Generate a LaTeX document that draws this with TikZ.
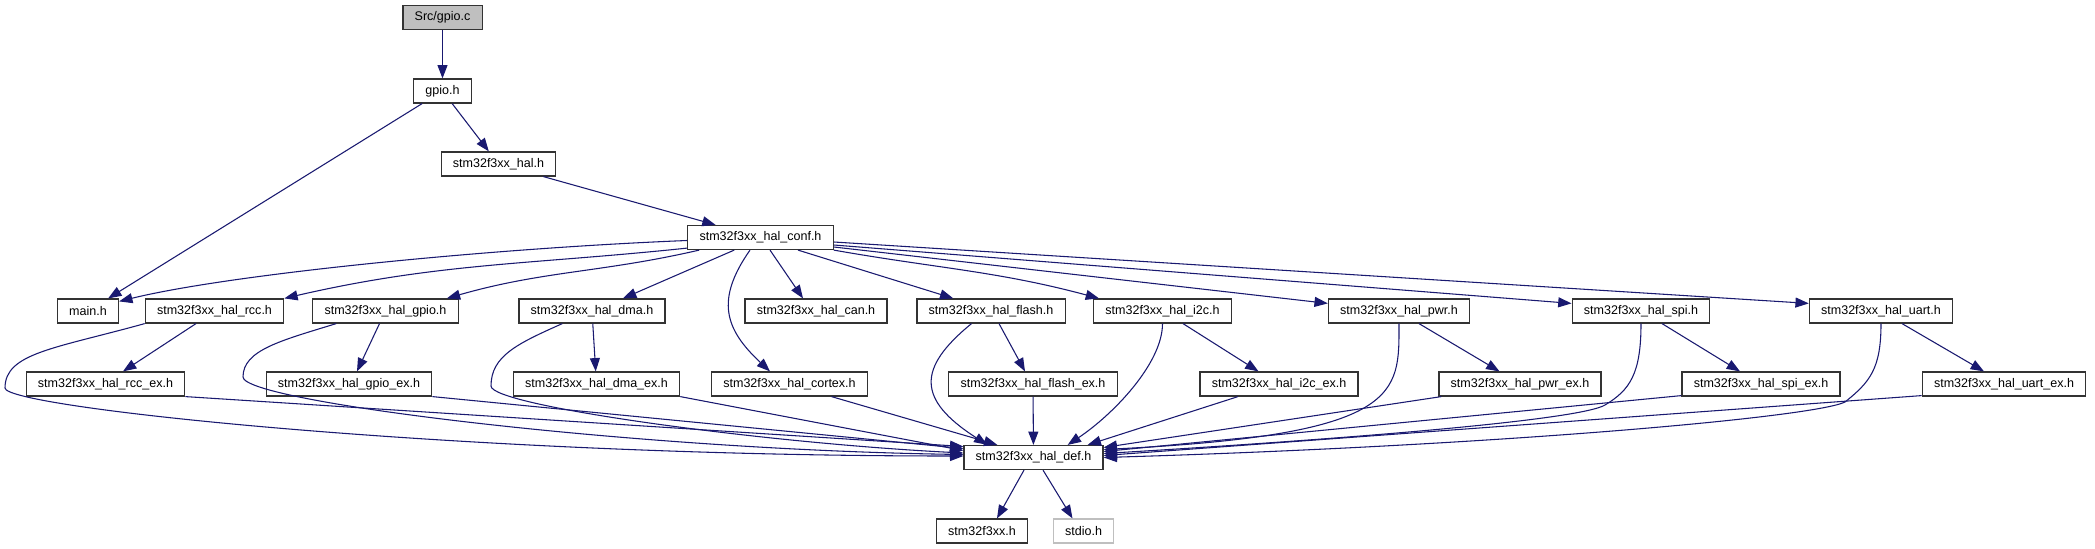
\documentclass[tikz,border=0pt]{standalone}
\usepackage{fontspec}
\setmainfont{Liberation Sans}
\usetikzlibrary{arrows.meta}
\definecolor{edgeblue}{RGB}{25,25,112}
\begin{document}
\begin{tikzpicture}[x=0.75pt, y=0.75pt,
    hfile/.style={draw=black!80, line width=0.9pt, fill=white, inner xsep=8.8pt, inner ysep=0pt, minimum height=18pt, font=\fontsize{9.4}{11}\selectfont},
    incl/.style={draw=edgeblue, line width=0.8pt, -{Triangle[length=10pt, width=7.5pt]}}]
    \fill[white] (0,0) rectangle (2095,-549);
    \useasboundingbox (0,0) rectangle (2095,-549);
    % files
    \node[hfile, fill=black!25] (gpioc) at (442.5,-17.5) {Src/gpio.c};
    \node[hfile] (gpioh) at (442.5,-91) {gpio.h};
    \node[hfile] (hal) at (498.5,-164) {stm32f3xx\_hal.h};
    \node[hfile] (conf) at (760.5,-237.5) {stm32f3xx\_hal\_conf.h};
    \node[hfile] (main) at (88,-311) {main.h};
    \node[hfile] (rcc) at (214.5,-311) {stm32f3xx\_hal\_rcc.h};
    \node[hfile] (gpio) at (385.5,-311) {stm32f3xx\_hal\_gpio.h};
    \node[hfile] (dma) at (592,-311) {stm32f3xx\_hal\_dma.h};
    \node[hfile] (can) at (816,-311) {stm32f3xx\_hal\_can.h};
    \node[hfile] (flash) at (991,-311) {stm32f3xx\_hal\_flash.h};
    \node[hfile] (i2c) at (1162.5,-311) {stm32f3xx\_hal\_i2c.h};
    \node[hfile] (pwr) at (1399,-311) {stm32f3xx\_hal\_pwr.h};
    \node[hfile] (spi) at (1641,-311) {stm32f3xx\_hal\_spi.h};
    \node[hfile] (uart) at (1881,-311) {stm32f3xx\_hal\_uart.h};
    \node[hfile] (rccex) at (105.5,-384) {stm32f3xx\_hal\_rcc\_ex.h};
    \node[hfile] (gpioex) at (349,-384) {stm32f3xx\_hal\_gpio\_ex.h};
    \node[hfile] (dmaex) at (596.5,-384) {stm32f3xx\_hal\_dma\_ex.h};
    \node[hfile] (cortex) at (789.5,-384) {stm32f3xx\_hal\_cortex.h};
    \node[hfile] (flashex) at (1033,-384) {stm32f3xx\_hal\_flash\_ex.h};
    \node[hfile] (i2cex) at (1279,-384) {stm32f3xx\_hal\_i2c\_ex.h};
    \node[hfile] (pwrex) at (1520,-384) {stm32f3xx\_hal\_pwr\_ex.h};
    \node[hfile] (spiex) at (1761,-384) {stm32f3xx\_hal\_spi\_ex.h};
    \node[hfile] (uartex) at (2004,-384) {stm32f3xx\_hal\_uart\_ex.h};
    \node[hfile] (def) at (1033.5,-457.5) {stm32f3xx\_hal\_def.h};
    \node[hfile] (f3xx) at (982,-531) {stm32f3xx.h};
    \node[hfile, draw=black!25] (stdio) at (1083.5,-531) {stdio.h};
    % bends of the long curves
    \coordinate (rccl) at (5,-388);
    \coordinate (gpiol) at (243,-377);
    \coordinate (dmal) at (491,-386);
    \coordinate (spiv) at (1605,-405);
    \coordinate (uartv) at (1845,-402);
    % top part
    \draw[incl] (gpioc) -- (gpioh);
    \draw[incl] ([shift={(9,0)}]gpioh.south west) -- ([shift={(-11,0)}]main.north east);
    \draw[incl] (gpioh) -- (hal);
    \draw[incl] (hal) -- (conf);
    % conf
    \draw[incl] ([shift={(0,-3)}]conf.west) .. controls +(-200,-8) and +(110,27) .. ([shift={(0,-3)}]main.north east);
    \draw[incl] ([shift={(0,2)}]conf.south west) to[out=186, in=13] (rcc.north east);
    \draw[incl] ([shift={(12,0)}]conf.south west) to[out=193, in=16] ([shift={(-12,0)}]gpio.north east);
    \draw[incl] ([shift={(47,0)}]conf.south west) -- ([shift={(31,0)}]dma.north);
    \draw[incl] ([shift={(-10.5,0)}]conf.south) .. controls +(-35,-50) and +(-45,42) .. ([shift={(-19.5,0)}]cortex.north);
    \draw[incl] ([shift={(9.5,0)}]conf.south) -- ([shift={(-13,0)}]can.north);
    \draw[incl] ([shift={(37.5,0)}]conf.south) -- ([shift={(37,0)}]flash.north west);
    \draw[incl] (conf.south east) to[out=-10, in=165] ([shift={(6,0)}]i2c.north west);
    \draw[incl] ([shift={(0,-9.5)}]conf.east) -- ([shift={(0,-5)}]pwr.north west);
    \draw[incl] ([shift={(0,-7.5)}]conf.east) -- ([shift={(0,-5)}]spi.north west);
    \draw[incl] ([shift={(0,-4.5)}]conf.east) -- ([shift={(0,-5)}]uart.north west);
    % second row
    \draw[incl] ([shift={(-18.5,0)}]rcc.south) -- ([shift={(17.5,0)}]rccex.north);
    \draw[incl] (rcc.south west) .. controls +(-90,-25) and +(0,35) .. (rccl) .. controls +(0,-20) and +(-500,0) .. ([shift={(0,1.5)}]def.west);
    \draw[incl] ([shift={(-6,0)}]gpio.south) -- ([shift={(8,0)}]gpioex.north);
    \draw[incl] ([shift={(24,0)}]gpio.south west) .. controls +(-55,-17) and +(0,27) .. (gpiol) .. controls +(0,-25) and +(-330,5) .. ([shift={(0,3)}]def.west);
    \draw[incl] (dma) -- (dmaex);
    \draw[incl] ([shift={(44,0)}]dma.south west) .. controls +(-45,-20) and +(0,30) .. (dmal) .. controls +(0,-20) and +(-200,10) .. ([shift={(0,4.5)}]def.west);
    \draw[incl] (flash.south) ++(8,0) -- ([shift={(-8,0)}]flashex.north);
    \draw[incl] ([shift={(-19.5,0)}]flash.south) .. controls +(-55,-45) and +(-70,45) .. ([shift={(24,0)}]def.north west);
    \draw[incl] ([shift={(20.5,0)}]i2c.south) -- ([shift={(-20.5,0)}]i2cex.north);
    \draw[incl] (i2c.south) .. controls +(0,-40) and +(45,30) .. ([shift={(-36,0)}]def.north east);
    \draw[incl] ([shift={(20,0)}]pwr.south) -- ([shift={(-20.5,0)}]pwrex.north);
    \draw[incl] (pwr.south) .. controls +(0,-70) and +(300,15) .. ([shift={(0,8)}]def.east);
    \draw[incl] ([shift={(21,0)}]spi.south) -- ([shift={(-21,0)}]spiex.north);
    \draw[incl] (spi.south) .. controls +(0,-50) and +(25,15) .. (spiv) .. controls +(-25,-15) and +(250,15) .. ([shift={(0,4)}]def.east);
    \draw[incl] ([shift={(21,0)}]uart.south) -- ([shift={(-20,0)}]uartex.north);
    \draw[incl] (uart.south) .. controls +(0,-45) and +(25,20) .. (uartv) .. controls +(-30,-15) and +(400,12) .. ([shift={(0,0)}]def.east);
    % third row into def
    \draw[incl] (rccex.south east) -- ([shift={(0,11)}]def.west);
    \draw[incl] (gpioex.south east) -- ([shift={(0,9)}]def.west);
    \draw[incl] (dmaex.south east) -- ([shift={(0,7)}]def.west);
    \draw[incl] ([shift={(42,0)}]cortex.south) -- ([shift={(34,0)}]def.north west);
    \draw[incl] (flashex) -- (def);
    \draw[incl] ([shift={(-41,0)}]i2cex.south) -- ([shift={(-16,0)}]def.north east);
    \draw[incl] ([shift={(3,0)}]pwrex.south west) -- ([shift={(0,10)}]def.east);
    \draw[incl] ([shift={(0,1)}]spiex.south west) -- ([shift={(0,6)}]def.east);
    \draw[incl] ([shift={(0,1)}]uartex.south west) -- ([shift={(0,2)}]def.east);
    % def
    \draw[incl] ([shift={(-9.5,0)}]def.south) -- ([shift={(15,0)}]f3xx.north);
    \draw[incl] ([shift={(9.5,0)}]def.south) -- ([shift={(-11,0)}]stdio.north);
\end{tikzpicture}
\end{document}
